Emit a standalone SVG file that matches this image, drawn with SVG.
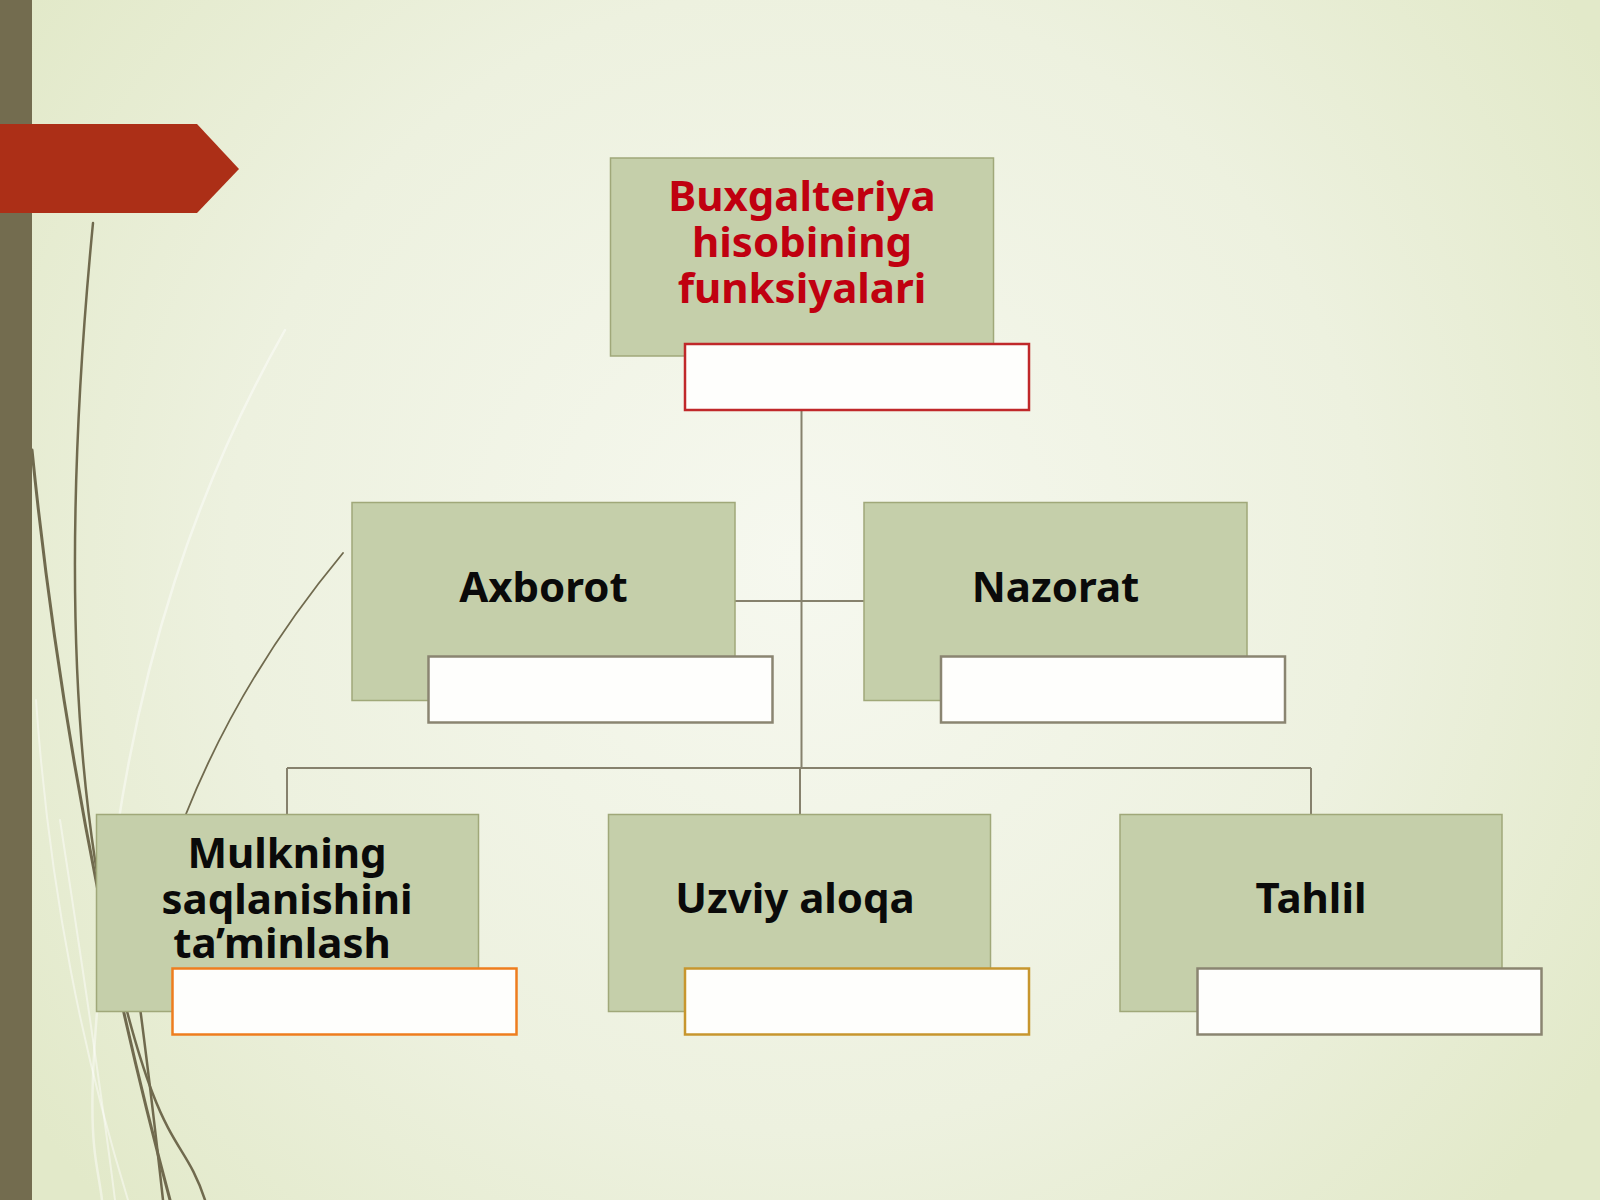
<svg xmlns="http://www.w3.org/2000/svg" width="1600" height="1200" viewBox="0 0 1600 1200">
  <defs>
    <radialGradient id="bg" cx="800" cy="560" r="950" gradientUnits="userSpaceOnUse">
      <stop offset="0" stop-color="#f6f8ef"/>
      <stop offset="0.6" stop-color="#edf1df"/>
      <stop offset="1" stop-color="#e2e9c9"/>
    </radialGradient>
    <style>
      .green { fill: #c5cfaa; stroke: #a0a879; stroke-width: 1.5; }
      .white { fill: #fefefc; stroke-width: 2.5; }
      .conn { stroke: #86816d; stroke-width: 2; fill: none; }
      .label { font-family: "Noto Sans", "Open Sans", "DejaVu Sans", sans-serif; font-weight: bold; font-size: 42px; text-anchor: middle; fill: #0a0a0a; }
      .title { fill: #c00010; }
      .deco { fill: none; stroke: #706a4e; stroke-linecap: round; }
      .light { fill: none; stroke: #ffffff; stroke-opacity: 0.45; stroke-linecap: round; }
    </style>
  </defs>

  <!-- background -->
  <rect x="0" y="0" width="1600" height="1200" fill="url(#bg)"/>

  <!-- decorative stems -->
  <g id="decor">
    <path class="light" stroke-width="2.5" d="M285,330 C 200,480 135,660 108,900 S 96,1150 102,1200"/>
    <path class="light" stroke-width="2" d="M36,700 C 50,900 85,1060 128,1200"/>
    <path class="light" stroke-width="2" d="M60,820 C 80,950 100,1080 115,1200"/>
    <path class="deco" stroke-width="3" d="M32,450 C 52,650 90,900 170,1200"/>
    <path class="deco" stroke-width="2.5" d="M93,223 C 68,480 64,740 112,950 S 182,1130 205,1200"/>
    <path class="deco" stroke-width="2.5" d="M125,900 C 140,1000 152,1100 163,1200"/>
    <path class="deco" stroke-width="1.8" d="M343,553 Q 241,676 186,814"/>
  </g>

  <!-- left bar and red tab -->
  <rect x="0" y="0" width="32" height="1200" fill="#736c4f"/>
  <polygon points="0,124 197,124 239,169 197,213 0,213" fill="#ac2f17"/>

  <!-- connectors -->
  <g id="connectors">
    <line class="conn" x1="801.5" y1="410" x2="801.5" y2="768"/>
    <line class="conn" x1="735" y1="601" x2="864" y2="601"/>
    <line class="conn" x1="287" y1="768" x2="1311" y2="768"/>
    <line class="conn" x1="287" y1="768" x2="287" y2="814.5"/>
    <line class="conn" x1="800" y1="768" x2="800" y2="814.5"/>
    <line class="conn" x1="1311" y1="768" x2="1311" y2="814.5"/>
  </g>

  <!-- top node -->
  <g id="node-root">
    <rect class="green" x="610.5" y="158" width="383" height="198"/>
    <text class="label title" x="802" y="211">Buxgalteriya</text>
    <text class="label title" x="802" y="257">hisobining</text>
    <text class="label title" x="802" y="303">funksiyalari</text>
    <rect class="white" x="685" y="344" width="344" height="66" stroke="#c0282a"/>
  </g>

  <g id="node-axborot">
    <rect class="green" x="352" y="502.5" width="383" height="198"/>
    <text class="label" x="543.5" y="602">Axborot</text>
    <rect class="white" x="428.5" y="656.5" width="344" height="66" stroke="#8a8571"/>
  </g>

  <g id="node-nazorat">
    <rect class="green" x="864" y="502.5" width="383" height="198"/>
    <text class="label" x="1055.5" y="602">Nazorat</text>
    <rect class="white" x="941" y="656.5" width="344" height="66" stroke="#8a8571"/>
  </g>

  <g id="node-mulk">
    <rect class="green" x="96.5" y="814.5" width="382" height="197"/>
    <text class="label" x="287" y="868">Mulkning</text>
    <text class="label" x="287" y="914">saqlanishini</text>
    <text class="label" x="282" y="958">ta’minlash</text>
    <rect class="white" x="172.5" y="968.5" width="344" height="66" stroke="#ee7d1e"/>
  </g>

  <g id="node-uzviy">
    <rect class="green" x="608.5" y="814.5" width="382" height="197"/>
    <text class="label" x="795" y="913">Uzviy aloqa</text>
    <rect class="white" x="685" y="968.5" width="344" height="66" stroke="#c7962e"/>
  </g>

  <g id="node-tahlil">
    <rect class="green" x="1120" y="814.5" width="382" height="197"/>
    <text class="label" x="1311" y="913">Tahlil</text>
    <rect class="white" x="1197.5" y="968.5" width="344" height="66" stroke="#8a8571"/>
  </g>
</svg>
